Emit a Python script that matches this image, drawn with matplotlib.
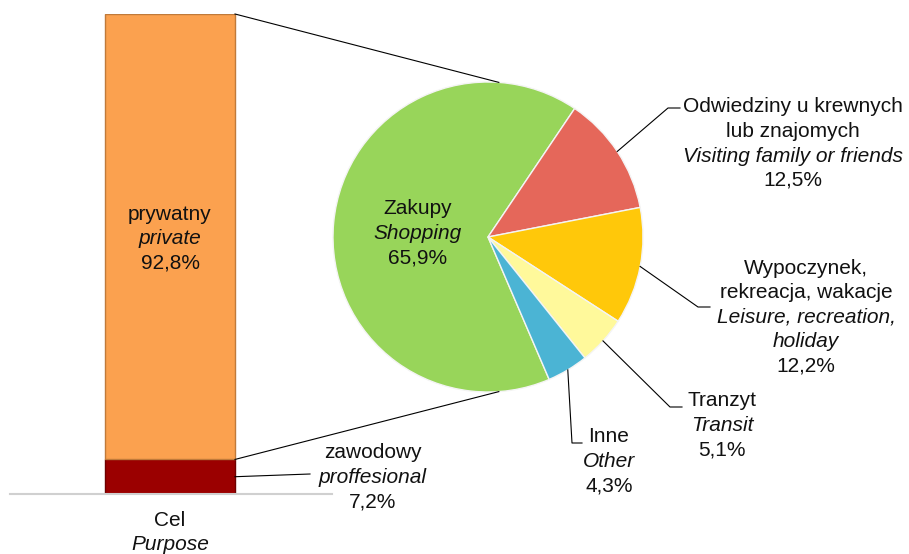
import numpy as np
import matplotlib.pyplot as plt
from matplotlib.patches import ConnectionPatch

# bar: purpose of visit
bar_labels_pl = ['prywatny', 'zawodowy']
bar_labels_en = ['private', 'proffesional']
bar_values = [92.8, 7.2]
bar_colors = ['#FBA14F', '#9B0000']

# pie: breakdown of private visits
pie_labels_pl = ['Zakupy', 'Odwiedziny u krewnych\nlub znajomych', 'Wypoczynek,\nrekreacja, wakacje',
                 'Tranzyt', 'Inne']
pie_labels_en = ['Shopping', 'Visiting family or friends', 'Leisure, recreation,\nholiday',
                 'Transit', 'Other']
pie_values = [65.9, 12.5, 12.2, 5.1, 4.3]
pie_colors = ['#98D55A', '#E5675A', '#FFC80A', '#FFF99B', '#4BB4D4']

W, H = 909, 554
plt.rcParams['font.family'] = ['Liberation Sans', 'DejaVu Sans']
FS = 15

fig = plt.figure(figsize=(W / 100, H / 100), dpi=100)


def rect(x0, y0, x1, y1):
    # pixel box (top-left origin) -> figure fraction
    return [x0 / W, (H - y1) / H, (x1 - x0) / W, (y1 - y0) / H]


# overlay in image pixel coords for labels / leaders
ov = fig.add_axes([0, 0, 1, 1], zorder=5)
ov.set_xlim(0, W)
ov.set_ylim(H, 0)
ov.axis('off')
ov.patch.set_alpha(0)


def to_ov(ax, pt):
    disp = ax.transData.transform(pt)
    return ov.transData.inverted().transform(disp)


def label(x, y, lines, ha='center'):
    for i, (txt, italic) in enumerate(lines):
        ov.text(x, y + i * 24.5, txt, ha=ha, va='center', fontsize=FS,
                style='italic' if italic else 'normal', color='#111111')


# ---- stacked bar ----
axb = fig.add_axes(rect(10, 14, 332, 494))
bottoms = np.concatenate([[0], np.cumsum(bar_values[::-1])[:-1]])
bars = []
for v, b, c in zip(bar_values[::-1], bottoms, bar_colors[::-1]):
    bars.append(axb.bar(160, v, bottom=b, width=130, color=c,
                        edgecolor='#c07a3a' if c == bar_colors[0] else '#6e0000', linewidth=1)[0])
axb.set_xlim(0, 322)
axb.set_ylim(0, 100)
for s in ['top', 'left', 'right']:
    axb.spines[s].set_visible(False)
axb.spines['bottom'].set_color('#d0d0d0')
axb.spines['bottom'].set_linewidth(1.5)
axb.set_xticks([])
axb.set_yticks([])
bar_red, bar_orange = bars

# ---- pie ----
cx, cy, r = 488, 237, 155
axp = fig.add_axes(rect(cx - r, cy - r, cx + r, cy + r))
start = 56 - 360 + pie_values[0] * 3.6
wedges, _ = axp.pie(pie_values, colors=pie_colors, startangle=start, counterclock=False,
                    radius=1, wedgeprops=dict(edgecolor='#f4f4f4', linewidth=1))
axp.set_xlim(-1, 1)
axp.set_ylim(-1, 1)
axp.set_aspect('equal')
axp.axis('off')

# connection lines bar -> pie
top_r = bar_orange.get_x() + bar_orange.get_width()
for yb, ang in [(bar_orange.get_y() + bar_orange.get_height(), 86), (bar_orange.get_y(), -86)]:
    p1 = to_ov(axb, (top_r, yb))
    p2 = to_ov(axp, (np.cos(np.radians(ang)), np.sin(np.radians(ang))))
    ov.plot([p1[0], p2[0]], [p1[1], p2[1]], color='black', lw=0.8)

# bar labels
label(170, 214, [(bar_labels_pl[0], False), (bar_labels_en[0], True), ('92,8%', False)])
p1 = to_ov(axb, (top_r, bar_red.get_y() + bar_red.get_height() / 2))
ov.plot([p1[0], 310], [p1[1], 474], color='black', lw=0.8)
label(373, 453, [(bar_labels_pl[1], False), (bar_labels_en[1], True), ('7,2%', False)])
label(170, 520, [('Cel', False), ('Purpose', True)])

# pie labels
label(418, 209, [(pie_labels_pl[0], False), (pie_labels_en[0], True), ('65,9%', False)])


def pct(v):
    return f'{v:.1f}%'.replace('.', ',')


def mid_pt(w):
    a = np.radians((w.theta1 + w.theta2) / 2)
    return to_ov(axp, (np.cos(a), np.sin(a)))


leaders = [(1, (668, 108), (680, 108)), (2, (698, 307), (710, 307)),
           (3, (670, 407), (682, 407)), (4, (572, 443), (582, 443))]
for i, e1, e2 in leaders:
    s = mid_pt(wedges[i])
    ov.plot([s[0], e1[0], e2[0]], [s[1], e1[1], e2[1]], color='black', lw=0.8)

label(793, 107, [('Odwiedziny u krewnych', False), ('lub znajomych', False),
                 (pie_labels_en[1], True), (pct(pie_values[1]), False)])
label(806, 268, [('Wypoczynek,', False), ('rekreacja, wakacje', False),
                 ('Leisure, recreation,', True), ('holiday', True), (pct(pie_values[2]), False)])
label(722, 401, [(pie_labels_pl[3], False), (pie_labels_en[3], True), (pct(pie_values[3]), False)])
label(609, 437, [(pie_labels_pl[4], False), (pie_labels_en[4], True), (pct(pie_values[4]), False)])

fig.savefig('out.png', dpi=100)
